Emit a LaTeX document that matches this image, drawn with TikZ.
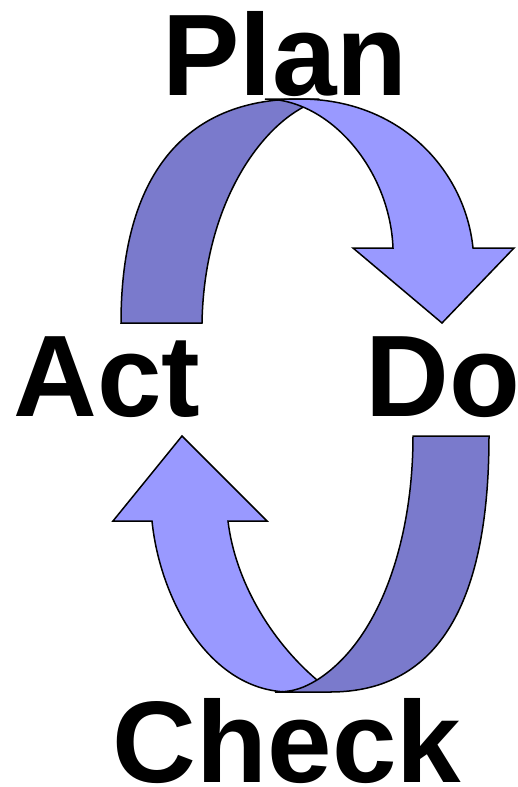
\documentclass[tikz,border=0pt]{standalone}
\usepackage{fontspec}
\setmainfont{Liberation Sans}
\definecolor{bandfront}{HTML}{9999FF}
\definecolor{bandback}{HTML}{7A7ACC}
\tikzset{
  every node/.style={font=\fontsize{116}{116}\selectfont\bfseries, inner sep=0pt},
  front/.style={fill=bandfront, draw=black, line width=1.5pt, line join=miter},
  back/.style={fill=bandback, draw=black, line width=1.5pt, line join=miter},
}

\begin{document}
\begin{tikzpicture}[x=1pt,y=-1pt]
  \useasboundingbox (0,0) rectangle (517,787);
  % top arrow: Plan -> Do
  \draw[back] (202,323) -- (121,323) .. controls (121,175) and (185,99) .. (300,99)
    -- (317,99) -- (300,109) .. controls (255,135) and (204,210) .. (202,323) -- cycle;
  \draw[front] (265,99) -- (300,99) .. controls (400,99) and (465,170) .. (473,248)
    -- (514,248) -- (442,323) -- (353,248) -- (393,248)
    .. controls (390,170) and (330,99) .. (265,99) -- cycle;
  % bottom arrow: Check -> Act
  \draw[front] (152,521) -- (113,521) -- (182,436) -- (267,521) -- (228,521)
    .. controls (235,580) and (270,640) .. (317,680) -- (330,692) -- (290,692)
    .. controls (210,692) and (160,600) .. (152,521) -- cycle;
  \draw[back] (489,436) -- (413,436) .. controls (413,540) and (380,640) .. (317,680)
    .. controls (305,687) and (295,692) .. (275,692) -- (330,692)
    .. controls (440,692) and (489,600) .. (489,436) -- cycle;
  % labels
  \node[anchor=base] (plan) at (285,95) {Plan};
  \node[anchor=base] (do) at (443,416) {Do};
  \node[anchor=base] (act) at (107,416) {Act};
  \node[anchor=base] (check) at (287,782) {Check};
\end{tikzpicture}
\end{document}
